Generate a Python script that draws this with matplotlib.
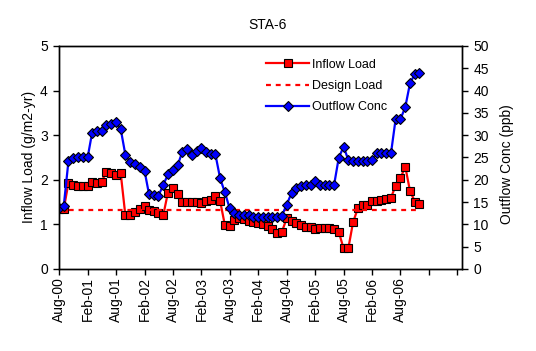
import numpy as np
import pandas as pd
import matplotlib
matplotlib.use("Agg")
import matplotlib.pyplot as plt

plt.rcParams['font.family'] = ['Liberation Sans', 'DejaVu Sans']
plt.rcParams['font.size'] = 10

# monthly values, Aug-2000 .. Dec-2006
months = pd.date_range('2000-08-01', periods=77, freq='MS')

inflow_load = [1.35, 1.35, 1.93, 1.89, 1.87, 1.85, 1.85, 1.95, 1.93, 1.95,
               2.18, 2.16, 2.11, 2.15, 1.20, 1.20, 1.28, 1.35, 1.40, 1.31,
               1.29, 1.26, 1.20, 1.71, 1.82, 1.67, 1.49, 1.49, 1.49, 1.49,
               1.47, 1.52, 1.55, 1.64, 1.52, 0.99, 0.96, 1.10, 1.13, 1.11,
               1.08, 1.05, 1.03, 1.01, 0.97, 0.90, 0.81, 0.83, 1.13, 1.08,
               1.03, 0.99, 0.95, 0.94, 0.89, 0.91, 0.91, 0.91, 0.89, 0.83,
               0.46, 0.47, 1.05, 1.36, 1.43, 1.44, 1.52, 1.52, 1.54, 1.57,
               1.60, 1.86, 2.04, 2.29, 1.75, 1.51, 1.45]

design_load = [1.33] * 77

outflow_conc = [13.7, 14.2, 24.2, 24.8, 25.0, 25.0, 25.0, 30.4, 30.9, 31.0,
                32.2, 32.4, 32.9, 31.4, 25.6, 23.9, 23.5, 22.8, 22.0, 16.9,
                16.5, 16.4, 18.8, 21.2, 22.1, 23.2, 26.2, 26.9, 25.5, 26.5,
                27.1, 26.3, 25.8, 25.8, 20.3, 17.2, 13.6, 12.6, 12.0, 12.0,
                12.0, 11.6, 11.6, 11.6, 11.6, 11.6, 11.6, 11.9, 14.4, 17.0,
                18.2, 18.7, 18.8, 18.9, 19.7, 18.9, 18.8, 18.8, 18.8, 24.9,
                27.4, 24.4, 24.3, 24.2, 24.2, 24.3, 24.4, 25.9, 25.9, 25.9,
                25.9, 33.6, 33.6, 36.3, 41.6, 43.7, 44.0]

fig = plt.figure(figsize=(5.36, 3.51), dpi=100)
ax = fig.add_axes([0.110, 0.234, 0.752, 0.635])
ax2 = ax.twinx()

l1, = ax.plot(months, inflow_load, color='#FF0000', lw=1.6, marker='s', ms=5.2,
              mfc='#FF0000', mec='black', mew=0.8, label='Inflow Load')
l2, = ax.plot(months, design_load, color='#FF0000', lw=1.6, ls=(0, (2.2, 2.2)),
              label='Design Load')
l3, = ax2.plot(months, outflow_conc, color='#0000FF', lw=1.6, marker='D', ms=4.6,
               mfc='#0000FF', mec='black', mew=0.8, label='Outflow Conc')

ax.set_ylim(0, 5)
ax2.set_ylim(0, 50)
ax.set_yticks(np.arange(0, 6, 1))
ax2.set_yticks(np.arange(0, 55, 5))
ax.set_xlim(pd.Timestamp('2000-08-01'), pd.Timestamp('2007-08-31'))

ticks = pd.date_range('2000-08-01', '2007-08-01', freq='6MS')
ax.set_xticks(ticks)
labels = [t.strftime('%b-%y') if t.year < 2007 else '' for t in ticks]
ax.set_xticklabels(labels, rotation=90)

for a in (ax, ax2):
    a.tick_params(direction='out', length=4, width=1, pad=2)
    a.tick_params(axis='y', pad=4)
    for s in a.spines.values():
        s.set_linewidth(1)

ax.set_ylabel('Inflow Load (g/m2-yr)', labelpad=3)
ax2.set_ylabel('Outflow Conc (ppb)', labelpad=8)
ax2.yaxis.label.set_y(0.47)
fig.suptitle('STA-6', x=0.5, y=0.929, va='center', fontsize=10)

ax.legend(handles=[l1, l2, l3], loc='upper left', bbox_to_anchor=(0.514, 0.943),
          frameon=False, borderpad=0, borderaxespad=0, handlelength=3.45,
          handletextpad=0.2, labelspacing=0.75, fontsize=9)

fig.savefig('out.png', dpi=100)
